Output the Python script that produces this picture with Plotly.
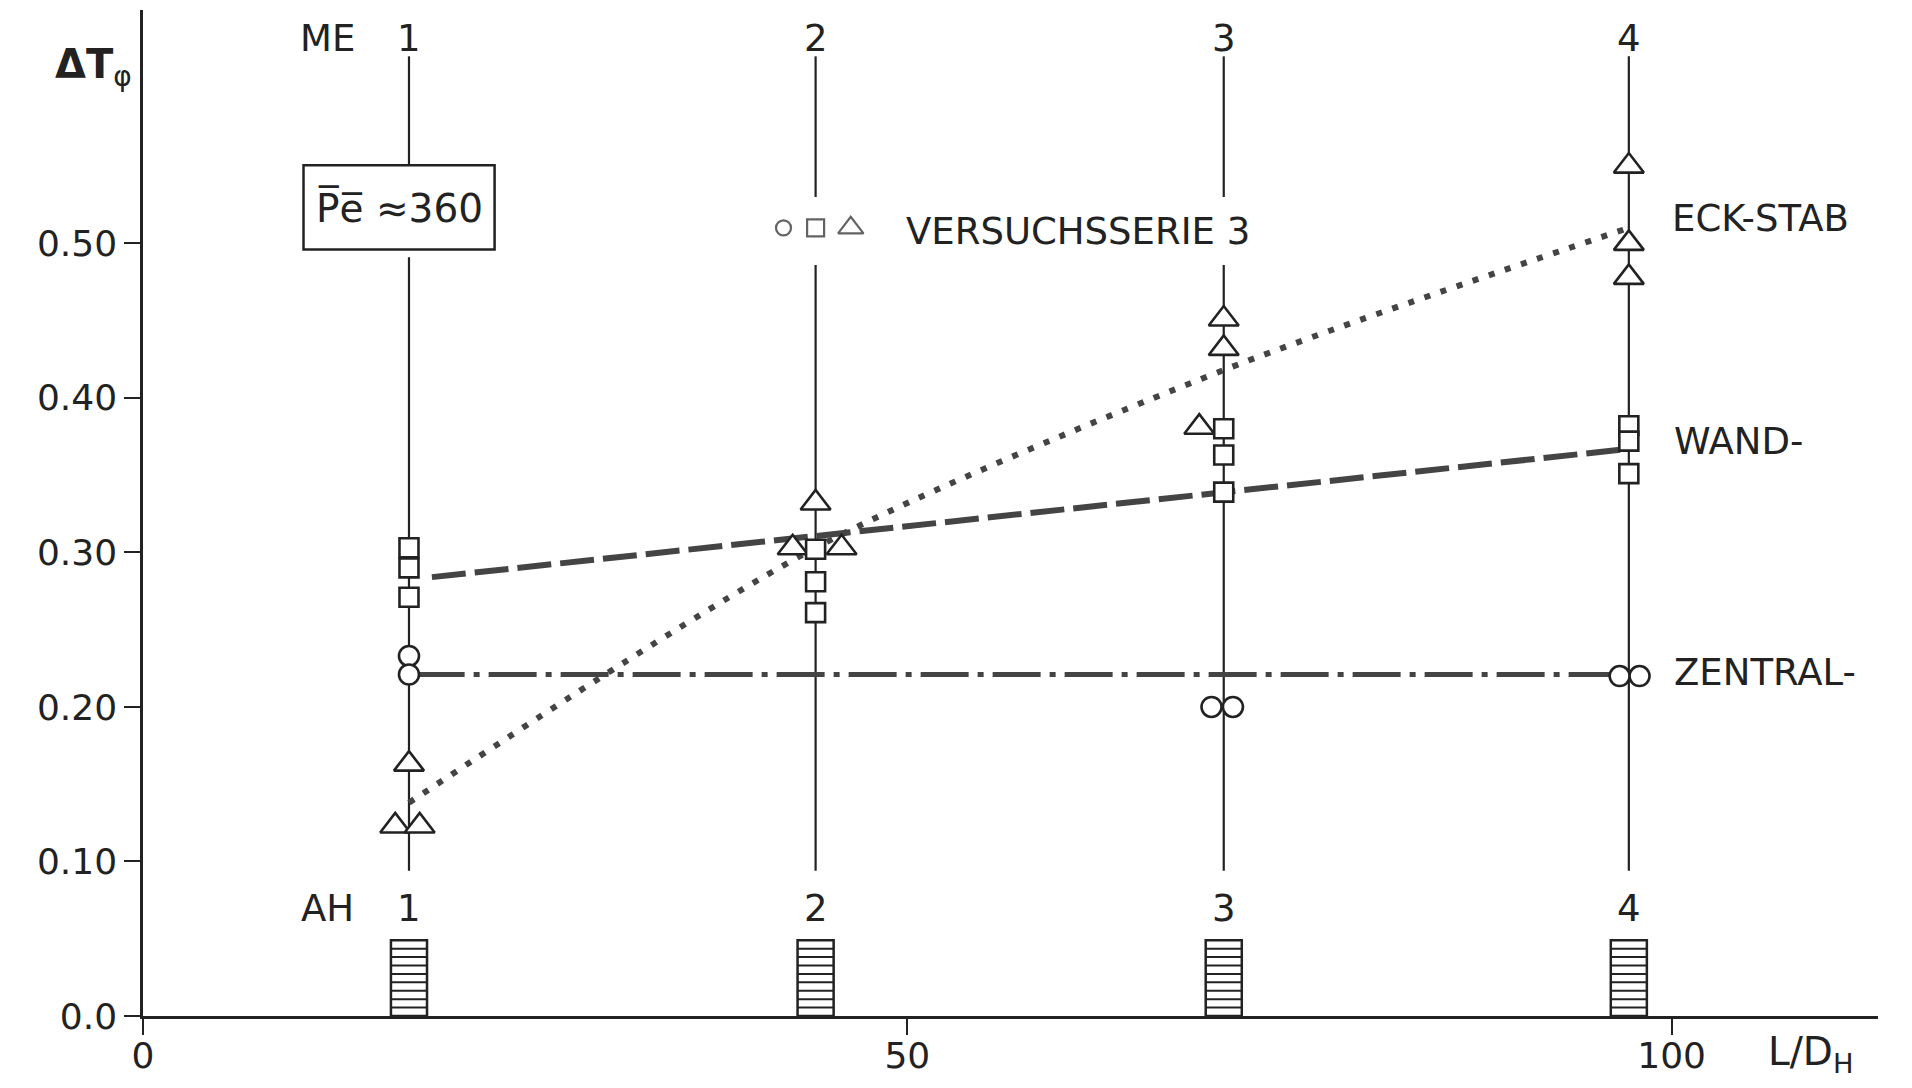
import plotly.graph_objects as go

# ---------------- data ----------------
station_x = [17.4, 44.0, 70.7, 97.2]
station_labels = ["1", "2", "3", "4"]

# Eck-Stab (triangles)
tri_x = [17.4, 16.5, 18.1, 44.0, 42.5, 45.7, 70.7, 70.7, 69.1, 97.2, 97.2, 97.2]
tri_y = [0.163, 0.123, 0.123, 0.332, 0.303, 0.303, 0.451, 0.432, 0.381, 0.550, 0.500, 0.478]

# Wand (squares)
sq_x = [17.4, 17.4, 17.4, 44.0, 44.0, 44.0, 70.7, 70.7, 70.7, 97.2, 97.2, 97.2]
sq_y = [0.303, 0.290, 0.271, 0.302, 0.281, 0.261, 0.380, 0.363, 0.339, 0.382, 0.372, 0.351]

# Zentral (circles)
ci_x = [17.4, 17.4, 69.9, 71.3, 96.6, 97.9]
ci_y = [0.233, 0.221, 0.200, 0.200, 0.220, 0.220]

# fitted curves
eck_line_x = [17.4, 44.0, 70.7, 97.2]
eck_line_y = [0.138, 0.303, 0.418, 0.510]
wand_line_x = [18.9, 97.2]
wand_line_y = [0.284, 0.367]
zentral_line_x = [17.9, 96.0]
zentral_line_y = [0.221, 0.221]

y_tickvals = [0.0, 0.10, 0.20, 0.30, 0.40, 0.50]
y_ticktext = ["0.0", "0.10", "0.20", "0.30", "0.40", "0.50"]
x_tickvals = [0, 50, 100]
x_ticktext = ["0", "50", "100"]

INK = "#222222"
FONT = "DejaVu Sans"

fig = go.Figure()

# station measurement lines (ME)
segments = {
    0: [(0.094, 0.491), (0.550, 0.621)],
    1: [(0.094, 0.486), (0.530, 0.621)],
    2: [(0.094, 0.486), (0.530, 0.621)],
    3: [(0.094, 0.621)],
}
shapes = []
for i, xs in enumerate(station_x):
    for (y0, y1) in segments[i]:
        shapes.append(dict(type="line", x0=xs, x1=xs, y0=y0, y1=y1, xref="x", yref="y",
                           line=dict(color=INK, width=2.2), layer="below"))

# hatched AH blocks
ah_height = 0.049
ah_half = 1.18
for xs in station_x:
    shapes.append(dict(type="rect", x0=xs - ah_half, x1=xs + ah_half, y0=0, y1=ah_height,
                       xref="x", yref="y", line=dict(color=INK, width=2.5), fillcolor="white"))
    for k in range(1, 9):
        yy = k * ah_height / 9
        shapes.append(dict(type="line", x0=xs - ah_half, x1=xs + ah_half, y0=yy, y1=yy,
                           xref="x", yref="y", line=dict(color=INK, width=2)))

# Pe box
shapes.append(dict(type="rect", x0=10.5, x1=23.0, y0=0.496, y1=0.5505, xref="x", yref="y",
                   line=dict(color=INK, width=2.5), fillcolor="white"))

# curves
fig.add_trace(go.Scatter(x=eck_line_x, y=eck_line_y, mode="lines",
                         line=dict(color="#444", width=6, dash="6px,11px", shape="spline", smoothing=0.8),
                         hoverinfo="skip", showlegend=False))
fig.add_trace(go.Scatter(x=wand_line_x, y=wand_line_y, mode="lines",
                         line=dict(color="#444", width=6, dash="34px,9px"),
                         hoverinfo="skip", showlegend=False))
fig.add_trace(go.Scatter(x=zentral_line_x, y=zentral_line_y, mode="lines",
                         line=dict(color="#444", width=5, dash="48px,9px,6px,9px"),
                         hoverinfo="skip", showlegend=False))

# markers
mk_line = dict(color=INK, width=2.6)
fig.add_trace(go.Scatter(x=tri_x, y=tri_y, mode="markers", name="ECK-STAB",
                         marker=dict(symbol="triangle-up", size=26, color="white", line=mk_line),
                         showlegend=False))
fig.add_trace(go.Scatter(x=sq_x, y=sq_y, mode="markers", name="WAND",
                         marker=dict(symbol="square", size=19, color="white", line=mk_line),
                         showlegend=False))
fig.add_trace(go.Scatter(x=ci_x, y=ci_y, mode="markers", name="ZENTRAL",
                         marker=dict(symbol="circle", size=20, color="white", line=mk_line),
                         showlegend=False))

# legend symbols for "VERSUCHSSERIE 3"
leg_x = [41.9, 44.0, 46.3]
leg_y = [0.510, 0.510, 0.510]
leg_sym = ["circle", "square", "triangle-up"]
leg_size = [15, 17, 22]
fig.add_trace(go.Scatter(x=leg_x, y=leg_y, mode="markers",
                         marker=dict(symbol=leg_sym, size=leg_size, color="white",
                                     line=dict(color=INK, width=2.2)),
                         hoverinfo="skip", showlegend=False))

ann = []
tf = dict(family=FONT, size=37, color=INK)
ann.append(dict(x=12.1, y=0.6326, text="ME", showarrow=False, font=tf, xref="x", yref="y"))
ann.append(dict(x=12.1, y=0.0698, text="AH", showarrow=False, font=tf, xref="x", yref="y"))
for xs, lab in zip(station_x, station_labels):
    ann.append(dict(x=xs, y=0.6326, text=lab, showarrow=False, font=tf, xref="x", yref="y"))
    ann.append(dict(x=xs, y=0.0698, text=lab, showarrow=False, font=tf, xref="x", yref="y"))
ann.append(dict(x=16.75, y=0.523, text="P\u0305e\u0305 \u2248360", showarrow=False,
                font=dict(family=FONT, size=39, color=INK), xref="x", yref="y"))
ann.append(dict(x=49.8, y=0.5075, text="VERSUCHSSERIE 3", showarrow=False, font=tf,
                xref="x", yref="y", xanchor="left"))
ann.append(dict(x=99.9, y=0.516, text="ECK-STAB", showarrow=False, font=tf,
                xref="x", yref="y", xanchor="left"))
ann.append(dict(x=100.0, y=0.372, text="WAND-", showarrow=False, font=tf,
                xref="x", yref="y", xanchor="left"))
ann.append(dict(x=100.0, y=0.222, text="ZENTRAL-", showarrow=False, font=tf,
                xref="x", yref="y", xanchor="left"))
ann.append(dict(x=106.2, y=-0.038, text="L/D<sub>H</sub>", showarrow=False,
                font=dict(family=FONT, size=39, color=INK),
                xref="x", yref="paper", xanchor="left", yanchor="middle"))
ann.append(dict(x=-0.052, y=0.614, text="<b>\u0394T</b><sub>\u03c6</sub>", showarrow=False,
                font=dict(family=FONT, size=40, color=INK), xref="paper", yref="y"))

fig.update_layout(
    width=1912, height=1088,
    margin=dict(l=135, r=42, t=2, b=80, autoexpand=False),
    paper_bgcolor="white", plot_bgcolor="white",
    shapes=shapes, annotations=ann,
    font=dict(family=FONT, size=36, color=INK),
)
fig.update_xaxes(range=[0, 113.5], showgrid=False, zeroline=False, showline=True,
                 linecolor=INK, linewidth=2.5, ticks="outside", ticklen=16, tickwidth=2,
                 tickcolor=INK, tickvals=x_tickvals, ticktext=x_ticktext,
                 ticklabelstandoff=-10, automargin=False,
                 tickfont=dict(family=FONT, size=36, color=INK))
fig.update_yaxes(range=[0, 0.651], showgrid=False, zeroline=False, showline=True,
                 linecolor=INK, linewidth=2.5, ticks="outside", ticklen=16, tickwidth=2,
                 tickcolor=INK, tickvals=y_tickvals, ticktext=y_ticktext, automargin=False,
                 tickfont=dict(family=FONT, size=36, color=INK))

fig.write_html("out.html")
